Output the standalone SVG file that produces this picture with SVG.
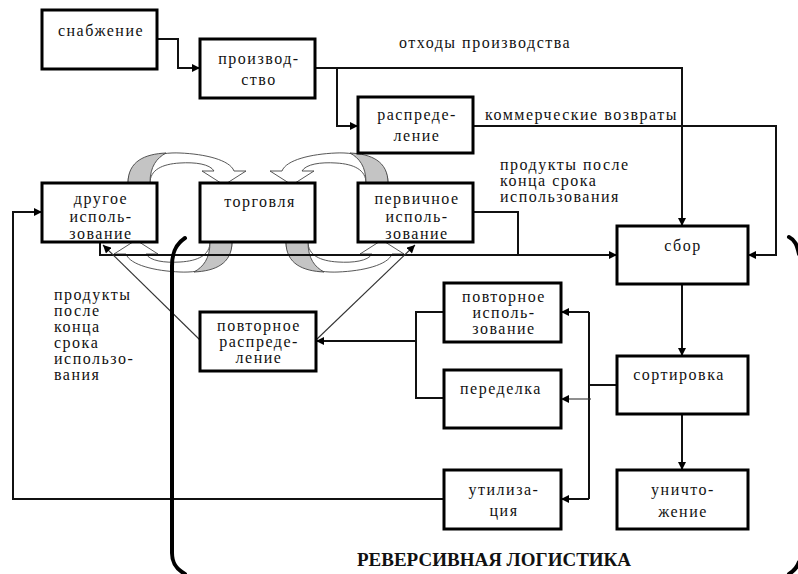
<svg xmlns="http://www.w3.org/2000/svg" width="798" height="574" viewBox="0 0 798 574">
<defs>
<style>
.box{fill:#fff;stroke:#000;stroke-width:3}
.t{font-family:"Liberation Serif","DejaVu Serif",serif;font-size:16px;letter-spacing:1.5px;fill:#111}
.m{text-anchor:middle}
.c{fill:none;stroke:#111;stroke-width:2}
.thin{fill:none;stroke:#333;stroke-width:1.1}
.band{fill:#fff;stroke:#444;stroke-width:0.9}
.shade{fill:#c4c4c4;stroke:#444;stroke-width:0.9}
.br{fill:none;stroke:#000;stroke-width:4;stroke-linecap:round}
</style>
<marker id="a" viewBox="0 0 10 10" refX="10" refY="5" markerWidth="9" markerHeight="8" markerUnits="userSpaceOnUse" orient="auto">
<path d="M0,0 L10,5 L0,10 z" fill="#000"/>
</marker>
<g id="carrow">
<path class="band" d="M128,183 C128,158 160,152 180,153 C205,154 230,160 234,171 L246,171 L224,185 L202,171 L214,171 C210,164 195,162 180,163 C162,164 150,170 150,183 Z"/>
<path class="shade" d="M128,183 C128,161 145,154 166,153 C157,158 150,166 150,183 Z"/>
</g>
</defs>
<rect width="798" height="574" fill="#fff"/>

<g id="cycle-arrows">
<use href="#carrow"/>
<use href="#carrow" transform="translate(516,0) scale(-1,1)"/>
<use href="#carrow" transform="translate(360,425) scale(-1,-1)"/>
<use href="#carrow" transform="translate(158,425) scale(1,-1)"/>
</g>

<g id="connectors">
<path class="c" d="M157,39 H178 V68 H200" marker-end="url(#a)"/>
<path class="c" d="M315,68 H337 V126 H358" marker-end="url(#a)"/>
<path class="c" d="M337,68 H682 V226" marker-end="url(#a)"/>
<path class="c" d="M473,126 H776 V255 H748" marker-end="url(#a)"/>
<path class="c" d="M473,212 H518 V255"/>
<path class="c" d="M100,242 V255 H617" marker-end="url(#a)"/>
<path class="thin" d="M200,340 L103,245" marker-end="url(#a)"/>
<path class="thin" d="M316,340 L415,245" marker-end="url(#a)"/>
<path class="c" d="M444,312 H416 V398 H444"/>
<path class="c" d="M416,341 H316" marker-end="url(#a)"/>
<path class="c" d="M617,385 H589"/>
<path class="c" d="M589,312 V499"/>
<path class="c" d="M589,312 H561" marker-end="url(#a)"/>
<path class="c" d="M589,499 H561" marker-end="url(#a)"/>
<path class="thin" d="M591,399 H561" marker-end="url(#a)"/>
<path class="c" d="M682,284 V356" marker-end="url(#a)"/>
<path class="c" d="M682,414 V470" marker-end="url(#a)"/>
<path class="c" d="M444,499 H13 V212 H42" marker-end="url(#a)"/>
</g>

<g id="n-snabzhenie"><rect class="box" x="42" y="10" width="115" height="59"/><text class="t m" x="101" y="36">снабжение</text></g>
<g id="n-proizvodstvo"><rect class="box" x="200" y="39" width="115" height="59"/><text class="t m" x="259" y="64">производ-</text><text class="t m" x="259" y="85">ство</text></g>
<g id="n-raspredelenie"><rect class="box" x="358" y="97" width="115" height="56"/><text class="t m" x="417" y="120">распреде-</text><text class="t m" x="417" y="141">ление</text></g>
<g id="n-drugoe"><rect class="box" x="42" y="183" width="115" height="59"/><text class="t m" x="101" y="204">другое</text><text class="t m" x="101" y="222">исполь-</text><text class="t m" x="101" y="239">зование</text></g>
<g id="n-torgovlya"><rect class="box" x="200" y="183" width="115" height="59"/><text class="t m" x="260" y="207">торговля</text></g>
<g id="n-pervichnoe"><rect class="box" x="358" y="183" width="115" height="59"/><text class="t m" x="417" y="204">первичное</text><text class="t m" x="417" y="222">исполь-</text><text class="t m" x="417" y="239">зование</text></g>
<g id="n-sbor"><rect class="box" x="617" y="226" width="131" height="58"/><text class="t m" x="683" y="251">сбор</text></g>
<g id="n-povt-ispolz"><rect class="box" x="444" y="283" width="117" height="59"/><text class="t m" x="504" y="302">повторное</text><text class="t m" x="504" y="318">исполь-</text><text class="t m" x="504" y="334">зование</text></g>
<g id="n-povt-raspr"><rect class="box" x="200" y="312" width="116" height="59"/><text class="t m" x="259" y="331">повторное</text><text class="t m" x="259" y="347">распреде-</text><text class="t m" x="259" y="363">ление</text></g>
<g id="n-sortirovka"><rect class="box" x="617" y="356" width="131" height="58"/><text class="t m" x="679" y="380">сортировка</text></g>
<g id="n-peredelka"><rect class="box" x="444" y="370" width="117" height="58"/><text class="t m" x="501" y="394">переделка</text></g>
<g id="n-utilizaciya"><rect class="box" x="444" y="470" width="117" height="59"/><text class="t m" x="504" y="495">утилиза-</text><text class="t m" x="504" y="516">ция</text></g>
<g id="n-unichtozhenie"><rect class="box" x="617" y="470" width="131" height="59"/><text class="t m" x="683" y="495">уничто-</text><text class="t m" x="683" y="517">жение</text></g>

<g id="labels">
<text class="t" x="399" y="48">отходы производства</text>
<text class="t" x="485" y="120">коммерческие возвраты</text>
<text class="t" x="500" y="170">продукты после</text>
<text class="t" x="500" y="186">конца срока</text>
<text class="t" x="500" y="202">использования</text>
<text class="t" x="54" y="300">продукты</text>
<text class="t" x="54" y="316">после</text>
<text class="t" x="54" y="332">конца</text>
<text class="t" x="54" y="348">срока</text>
<text class="t" x="54" y="364">использо-</text>
<text class="t" x="54" y="380">вания</text>
<text x="357" y="566" font-family="'Liberation Serif',serif" font-weight="bold" font-size="19" fill="#111">РЕВЕРСИВНАЯ ЛОГИСТИКА</text>
</g>

<g id="brackets">
<path class="br" d="M185,238 C176,244 172,252 172,266 L172,553 C172,563 176,569 185,574"/>
<path class="br" d="M789,237 C795,240 797,245 799,254"/>
<path class="br" d="M799,562 C797,568 794,571 789,574"/>
</g>
</svg>
